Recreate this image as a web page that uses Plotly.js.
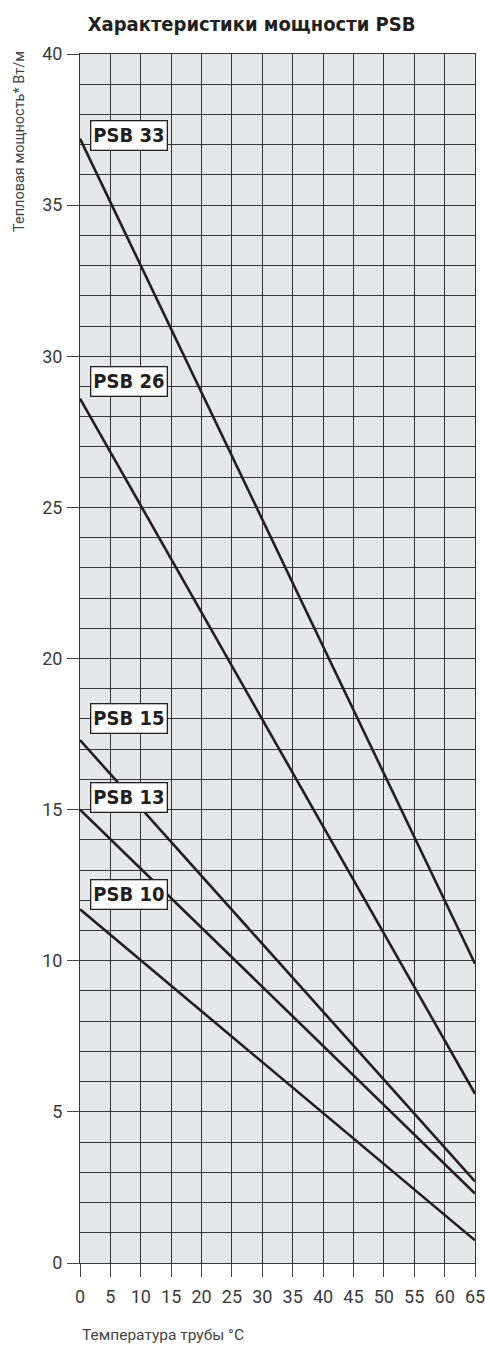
<!DOCTYPE html>
<html>
<head>
<meta charset="utf-8">
<script src="https://cdn.plot.ly/plotly-3.0.1.min.js"></script>
<style>html,body{margin:0;padding:0;background:#fff}#chart{width:485px;height:1349px}</style>
</head>
<body>
<div id="chart"></div>
<script>
const temps = [0, 65];
const seriesNames = ["PSB 33", "PSB 26", "PSB 15", "PSB 13", "PSB 10"];
const psb33 = [37.2, 9.9];
const psb26 = [28.6, 5.6];
const psb15 = [17.3, 2.7];
const psb13 = [15.0, 2.3];
const psb10 = [11.7, 0.75];
const labelY = [37.3, 29.15, 18.0, 15.4, 12.2];
const xTicks = [0,5,10,15,20,25,30,35,40,45,50,55,60,65];
const yTicks = [0,5,10,15,20,25,30,35,40];

const allSeries = [psb33, psb26, psb15, psb13, psb10];
const BOLD = '"DejaVu Sans Condensed", "DejaVu Sans", sans-serif';
const LIGHT = 'Roboto, "Liberation Sans", sans-serif';
const traces = allSeries.map((ys, i) => ({
  x: temps, y: ys, type: 'scatter', mode: 'lines', name: seriesNames[i],
  line: {color: '#231f20', width: 2.6}, hoverinfo: 'skip'
}));

const annotations = seriesNames.map((n, i) => ({
  text: '<b>' + n + '</b>', x: 1.65, y: labelY[i], xref: 'x', yref: 'y',
  xanchor: 'left', yanchor: 'middle', showarrow: false,
  font: {family: BOLD, size: 20, color: '#231f20'},
  bgcolor: '#ffffff', bordercolor: '#231f20', borderwidth: 1.3, borderpad: 2
}));
annotations.push({
  text: 'Тепловая мощность* Вт/м', textangle: -90,
  x: (19 - 80) / 395, y: (1263 - 142) / 1209, xref: 'paper', yref: 'paper',
  xanchor: 'center', yanchor: 'middle', showarrow: false,
  font: {family: LIGHT, size: 14.5, color: '#444'}
});
annotations.push({
  text: 'Температура трубы °C', xref: 'paper', yref: 'paper',
  x: 0, y: (1263 - 1335) / 1209, xanchor: 'left', yanchor: 'middle', showarrow: false,
  font: {family: LIGHT, size: 15.5, color: '#444'}
});

const gridCol = '#363636';
const layout = {
  width: 485, height: 1349,
  margin: {l: 80, r: 10, t: 54, b: 86},
  paper_bgcolor: '#ffffff', plot_bgcolor: '#e6e7e8',
  showlegend: false,
  title: {text: '<b>Характеристики мощности PSB</b>', x: 251.5 / 485, xanchor: 'center',
          y: 1 - 24 / 1349, yanchor: 'middle',
          font: {family: BOLD, size: 20, color: '#231f20'}},
  xaxis: {range: [0, 65], tickvals: xTicks, ticktext: xTicks.map(String),
          showgrid: true, gridcolor: gridCol, gridwidth: 1,
          ticks: 'outside', ticklen: 13, tickcolor: '#444', tickwidth: 1,
          showline: true, linecolor: gridCol, linewidth: 1, mirror: true,
          zeroline: false, ticklabelstandoff: 4, ticklabeloverflow: 'allow',
          tickfont: {family: LIGHT, size: 18, color: '#3a3a3a'}},
  yaxis: {range: [0, 40], tickvals: yTicks, ticktext: yTicks.map(String),
          showgrid: true, gridcolor: gridCol, gridwidth: 1,
          minor: {dtick: 1, tick0: 0, showgrid: true, gridcolor: gridCol, gridwidth: 1, ticks: ''},
          ticks: 'outside', ticklen: 12, tickcolor: '#444', tickwidth: 1,
          showline: true, linecolor: gridCol, linewidth: 1, mirror: true,
          zeroline: false, ticklabelstandoff: 1, ticklabeloverflow: 'allow',
          tickfont: {family: LIGHT, size: 18, color: '#3a3a3a'}},
  annotations: annotations
};
Plotly.newPlot('chart', traces, layout, {staticPlot: true});
</script>
</body>
</html>
